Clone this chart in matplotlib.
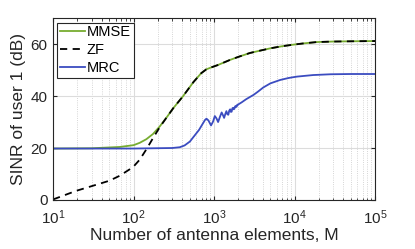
import matplotlib
matplotlib.use("Agg")
import matplotlib.pyplot as plt
from matplotlib.ticker import LogLocator, NullFormatter

plt.rcParams['font.family'] = ['Liberation Sans', 'DejaVu Sans']

# MMSE
mmse_M = [10, 30, 67, 100, 119, 144, 174, 211, 260, 310, 412, 550, 690, 800, 930, 1100,
          1567, 2000, 2790, 3720, 5000, 7000, 9600, 13000, 18800, 30000, 50000, 100000]
mmse_db = [19.8, 19.9, 20.4, 21.1, 22.0, 23.4, 25.4, 28.3, 32.0, 35.3, 40.0, 45.3, 48.8, 50.3, 51.1, 51.9,
           53.9, 55.1, 56.6, 57.5, 58.4, 59.2, 59.8, 60.3, 60.8, 61.0, 61.1, 61.2]

# ZF
zf_M = [10, 19.3, 30, 50, 67, 98, 119, 144, 174, 211, 260, 310, 412, 550, 690, 800, 930, 1100,
        1567, 2000, 2790, 3720, 5000, 7000, 9600, 13000, 18800, 30000, 50000, 100000]
zf_db = [0.2, 3.5, 5.3, 7.4, 9.3, 12.6, 15.5, 19.5, 23.8, 28.0, 32.0, 35.3, 40.0, 45.3, 48.8, 50.3, 51.1, 51.9,
         53.9, 55.1, 56.6, 57.5, 58.4, 59.2, 59.8, 60.3, 60.8, 61.0, 61.1, 61.2]

# MRC
mrc_M = [10, 100, 300, 374, 430, 500, 575, 650, 720, 770, 803, 850, 915, 970, 1020, 1070, 1120,
         1180, 1240, 1290, 1330, 1380, 1420, 1460, 1500, 1540, 1580, 1615, 1650, 1685, 1720,
         1750, 1785, 1820, 1850, 1880, 1910, 1940, 1970, 2000, 2200, 2500, 2800, 3100, 3500,
         4070, 5000, 6600, 8500, 10700, 17000, 28000, 50000, 100000]
mrc_db = [19.8, 19.8, 20.0, 20.3, 21.0, 22.5, 24.9, 27.0, 29.3, 30.8, 31.3, 30.6, 28.7, 30.2, 32.3, 31.4, 30.0,
          32.0, 33.7, 32.6, 31.6, 33.2, 34.2, 33.0, 32.8, 34.4, 34.9, 33.9, 34.0, 35.3, 35.5, 34.9,
          35.1, 36.0, 36.2, 35.8, 36.0, 36.7, 36.6, 36.8, 37.6, 38.8, 39.7, 40.5, 41.7,
          43.3, 44.9, 46.2, 47.0, 47.5, 48.1, 48.4, 48.5, 48.5]

fig = plt.figure(figsize=(4.15, 2.49), dpi=100)
ax = fig.add_axes([0.128, 0.197, 0.776, 0.73])

ax.plot(mmse_M, mmse_db, color='#77AC30', lw=1.3, label='MMSE')
ax.plot(zf_M, zf_db, color='black', lw=1.3, ls=(0, (4, 3)), label='ZF')
ax.plot(mrc_M, mrc_db, color='#3B4CC0', lw=1.3, label='MRC')

ax.set_xscale('log')
ax.set_xlim(10, 1e5)
ax.set_ylim(0, 70)
ax.set_yticks([0, 20, 40, 60])
ax.xaxis.set_major_locator(LogLocator(base=10, numticks=10))
ax.xaxis.set_minor_locator(LogLocator(base=10, subs=range(2, 10), numticks=50))
ax.xaxis.set_minor_formatter(NullFormatter())

ax.grid(True, which='major', color='#dcdcdc', lw=0.8, ls='-')
ax.grid(True, which='minor', axis='x', color='#c8c8c8', lw=0.6, ls=':')
ax.set_axisbelow(True)

ax.tick_params(which='both', direction='in', top=True, right=True, labelsize=11, colors='#262626')
ax.tick_params(axis='x', which='major', pad=6)
ax.tick_params(axis='y', which='major', pad=4)
ax.tick_params(which='major', length=3)
ax.tick_params(which='minor', length=1.8)
for s in ax.spines.values():
    s.set_color('#262626')
    s.set_linewidth(0.8)

ax.set_xlabel('Number of antenna elements, M', fontsize=12.5, color='#262626', labelpad=1)
ax.set_ylabel('SINR of user 1 (dB)', fontsize=12.5, color='#262626', labelpad=3)

leg = ax.legend(loc='upper left', fontsize=10.5, frameon=True, fancybox=False, framealpha=1,
                edgecolor='#262626', borderpad=0.2, handlelength=1.7, handletextpad=0.1,
                labelspacing=0.25, borderaxespad=0.3)
leg.get_frame().set_linewidth(0.8)

fig.savefig('out.png', dpi=100)
